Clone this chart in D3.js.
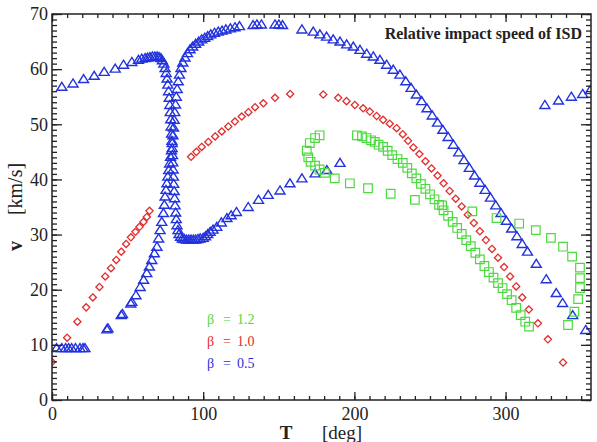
<!DOCTYPE html>
<html>
<head>
<meta charset="utf-8">
<script src="https://cdn.jsdelivr.net/npm/d3@7"></script>
<style>
  body { margin: 0; background: #fff; }
  svg { display: block; }
</style>
</head>
<body>
<script>
// tick labels
const xTicks = [0, 100, 200, 300];
const yTicks = [0, 10, 20, 30, 40, 50, 60, 70];

// beta = 0.5, first branch (upper left, falls through the V, lower right, plus wrap at T~330+)
const beta05a = [
  [6.5,56.8],[13.9,57.4],[20.9,58.2],[27.9,58.8],[34.5,59.5],[41.8,60.1],[47.3,60.8],[52.8,61.3],
  [57.2,61.7],[59.4,61.9],[61.6,62.0],[63.2,62.1],[64.8,62.2],[66.4,62.3],[68,62.3],[69.5,62.3],
  [70.8,62.2],[72,62],[73,61.6],[74,61],[74.8,60.2],[75.5,59.3],[76.1,58.3],[76.6,57.2],[77.1,56],
  [77.5,54.8],[77.9,53.5],[78.2,52.2],[78.5,50.9],[78.8,49.6],[79.1,48.3],[79.3,47],[79.5,45.7],
  [79.7,44.4],[79.9,43.1],[80.1,41.8],[80.3,40.5],[80.5,39.2],[80.8,37.9],[81.1,36.6],[81.4,35.3],
  [81.8,34],[82.2,32.8],[82.7,31.7],[83.3,30.8],[84,30.1],[85,29.6],[86.2,29.3],[87.5,29.2],
  [89,29.1],[90.5,29.1],[92,29.1],[93.5,29.1],[95,29.1],[96.5,29.2],[98,29.3],[100,29.4],
  [101.5,29.7],[103,30.1],[104.6,30.5],[106.5,30.9],[109,31.4],[112,32.2],[115.7,33],[118.5,33.5],
  [122,34.1],[129.8,35],[136.6,36.3],[143,37.2],[150.8,38],[157.4,39.3],[165.3,40.2],[174,41.1],
  [181.8,41.7],[190.5,43],
  [326,53.5],[335,54.3],[343.5,55],[351,55.5],[356,56.2]
];

// beta = 0.5, second branch (low start, rises through the V, long descent)
const beta05b = [
  [3,9.4],[6.5,9.4],[9,9.4],[11,9.4],[13,9.4],[15.5,9.4],[18.5,9.4],[20.5,9.4],[21.8,9.4],
  [36.3,12.8],[37,13],[45.8,15.4],[46.6,15.6],[52.1,17.5],[52.8,17.8],[55.5,19],[58.3,20.5],
  [60.6,21.8],[62.7,23],[64.4,24.2],[66,25.4],[67.7,26.6],[69.4,27.8],[70.5,29.3],[71.5,30.8],
  [72.6,32.3],[73.7,33.9],[74.3,35.4],[74.8,36.9],[75.4,38.1],[76,39.3],[76.6,40.5],[77.2,41.7],
  [77.8,42.9],[78.4,44.1],[79,45.3],[79.5,46.6],[80,48],[80.4,49.4],[80.8,50.8],[81.2,52.2],
  [81.7,53.6],[82.2,55],[82.8,56.4],[83.5,57.8],[84.3,59],[85.3,60.2],[86.5,61.2],[88,62.1],
  [89.6,62.9],[91.3,63.6],[93,64.1],[95,64.6],[97,65],[99,65.4],[101,65.7],[103,66],[105,66.3],
  [107.5,66.6],[110,66.8],[112.5,67],[115,67.2],[118,67.4],[121,67.6],[124,67.8],[133,68],
  [135.5,68.1],[138.5,68.1],[147.5,68.1],[150,68.1],[152.5,68],[165.3,67.2],[172.8,66.8],
  [177.2,66.3],[181.6,65.9],[186,65.4],[190.5,65],[194.9,64.5],[199.3,64.1],[203.7,63.5],
  [208.1,62.8],[212.5,62.3],[216.9,61.7],[221.3,60.8],[225.7,59.9],[230.1,59],[234,57.8],
  [237.5,56.6],[241,55.4],[244.5,54.2],[248,52.9],[251.5,51.6],[255,50.3],[258.5,49],[262,47.7],
  [265.5,46.3],[269,44.9],[272.5,43.5],[276,42.1],[279.5,40.7],[283,39.4],[286.5,38.1],[290,36.7],
  [293.5,35.3],[297,33.9],[300.5,32.5],[304,31.1],[307.5,29.7],[311,28.3],[314.5,26.9],
  [320.3,24.7],[326.9,21.9],[333.5,19.4],[337.7,17.6],[344.4,15.4],[353,12.7]
];

// beta = 1.0
const beta10 = [
  [0,6.9],[10,11.3],[16.8,14.2],[22.6,16.8],[27,18.6],[31.4,20.5],[35.2,22.4],[39,23.9],[42.5,25.4],
  [45.8,26.9],[49,28.3],[52.2,29.5],[55.2,30.5],[57.9,31.4],[60.5,32.3],[62.7,33.2],[64.5,34.3],
  [92,44.1],[95.5,45],[99,45.9],[103.4,46.8],[107.9,47.8],[112.3,48.7],[116.6,49.6],[121,50.5],
  [125.5,51.4],[129.9,52.2],[134.3,53.1],[139.8,53.8],[147.5,54.8],[157.5,55.5],
  [179.4,55.4],[189.3,54.8],[194.8,54.2],[200.3,53.5],[205.8,52.9],[210.2,52.3],[214.7,51.5],
  [219,50.8],[223.4,50.1],[227.9,49.3],[232,48.2],[235.5,47],[239,45.8],[243,44.6],[247,43.3],
  [251,42],[255,40.7],[259,39.3],[263,37.9],[267,36.5],[271,35.1],[275,33.6],[279,32.1],[283,30.6],
  [287,29],[291,27.4],[295,25.8],[299,24.1],[303,22.4],[307,20.6],[311,18.6],[315.4,16.4],
  [321.4,13.9],[328,11],[338,6.8]
];

// beta = 1.2
const beta12 = [
  [177,48],[174,47.5],[170.5,46.6],[168.5,45.2],[169.5,44],[171,43.2],[174,42.5],[177,41.8],
  [180.5,41.2],[187,40.2],[197,39.3],[209,38.4],[224,37.4],[240,36.3],[258,35.3],[278,34.2],
  [294,33],[309,32],[320,30.8],[330,29.4],[338,27.8],[344,26],[349.2,24],[349.2,22.1],[349.2,20.3],
  [348,18.3],[345.5,16],[341.3,13.6],
  [201.7,48],[205,47.8],[208,47.5],[211,47.1],[213.5,46.8],[216,46.3],[219,45.9],[222,45.2],
  [225,44.4],[228.5,43.7],[232,43],[235,42.1],[238,41.1],[241,40.2],[244,39.2],[247,38.3],
  [250,37.3],[253,36.4],[256,35.4],[259,34.4],[262,33.4],[265,32.3],[268,31.2],[271,30.1],
  [274,29],[277,27.9],[280,26.7],[283,25.5],[286,24.3],[289,23.2],[292,22.2],[295,21.2],
  [298,20.3],[301,19.2],[304,18.1],[307,16.7],[310,15.4],[313,14.2],[315.5,13.3]
];

const legendLabels = ['1.2', '1.0', '0.5'];

const blue = '#2233dd', red = '#e22d2d', green = '#4fd940';
const ink = '#222';
const serif = '"Liberation Serif", "Times New Roman", serif';

const W = 597, H = 442;
const mLeft = 52, mRight = 591, mTop = 14, mBottom = 400;

const x = d3.scaleLinear().domain([0, 356.5]).range([mLeft, mRight]);
const y = d3.scaleLinear().domain([0, 70]).range([mBottom, mTop]);

const svg = d3.select('body').append('svg').attr('width', W).attr('height', H);

svg.append('defs').append('clipPath').attr('id', 'plot')
  .append('rect').attr('x', mLeft).attr('y', mTop).attr('width', mRight - mLeft).attr('height', mBottom - mTop);

// markers
const tri = 'M0,-4.5L5,3.5L-5,3.5Z';
const dia = 'M0,-3.6L3.6,0L0,3.6L-3.6,0Z';
const sq = 'M-4.3,-4.3H4.3V4.3H-4.3Z';

const marks = svg.append('g').attr('clip-path', 'url(#plot)');

function scatter(data, shape, color, sw) {
  marks.append('g').selectAll('path')
    .data(data)
    .join('path')
    .attr('transform', d => `translate(${x(d[0])},${y(d[1])})`)
    .attr('d', shape)
    .attr('fill', 'none')
    .attr('stroke', color)
    .attr('stroke-width', sw);
}

scatter(beta05a.concat(beta05b), tri, blue, 1.4);
scatter(beta10, dia, red, 1.3);
scatter(beta12, sq, green, 1.2);

// axes, ticks pointing inward
function drawAxis(axis, tx, ty) {
  svg.append('g')
    .attr('transform', `translate(${tx},${ty})`)
    .call(axis)
    .call(g => {
      g.attr('font-family', null).attr('font-size', null);
      g.select('.domain').remove();
      g.selectAll('line').attr('stroke', ink).attr('stroke-width', 1.3);
      g.selectAll('text').style('font-family', serif).style('font-size', '18px').attr('fill', ink);
    });
}

const xMinor = d3.range(0, 357, 10);
const yMinor = d3.range(0, 71, 1);

drawAxis(d3.axisBottom(x).tickValues(xMinor).tickSize(-4).tickFormat(''), 0, mBottom);
drawAxis(d3.axisBottom(x).tickValues(xTicks).tickSize(-8).tickPadding(7), 0, mBottom);
drawAxis(d3.axisTop(x).tickValues(xMinor).tickSize(-4).tickFormat(''), 0, mTop);
drawAxis(d3.axisTop(x).tickValues(xTicks).tickSize(-8).tickFormat(''), 0, mTop);
drawAxis(d3.axisLeft(y).tickValues(yMinor).tickSize(-5).tickFormat(''), mLeft, 0);
drawAxis(d3.axisLeft(y).tickValues(yTicks).tickSize(-10).tickPadding(4), mLeft, 0);
drawAxis(d3.axisRight(y).tickValues(yMinor).tickSize(-5).tickFormat(''), mRight, 0);
drawAxis(d3.axisRight(y).tickValues(yTicks).tickSize(-10).tickFormat(''), mRight, 0);

// frame
svg.append('rect')
  .attr('x', mLeft).attr('y', mTop)
  .attr('width', mRight - mLeft).attr('height', mBottom - mTop)
  .attr('fill', 'none').attr('stroke', ink).attr('stroke-width', 1.5);

// title
svg.append('text')
  .attr('x', 582).attr('y', 39)
  .attr('text-anchor', 'end')
  .style('font-family', serif).style('font-size', '16px').attr('font-weight', 'bold')
  .attr('fill', ink)
  .text('Relative impact speed of ISD');

// x axis title
svg.append('text')
  .attr('x', 286).attr('y', 439).attr('text-anchor', 'middle')
  .style('font-family', serif).style('font-size', '19px').attr('font-weight', 'bold').attr('fill', ink)
  .text('T');
svg.append('text')
  .attr('x', 322).attr('y', 439)
  .style('font-family', serif).style('font-size', '19px').attr('fill', ink)
  .text('[deg]');

// y axis title
svg.append('text')
  .attr('transform', 'translate(22,246) rotate(-90)').attr('text-anchor', 'middle')
  .style('font-family', serif).style('font-size', '20px').attr('font-weight', 'bold').attr('fill', ink)
  .text('v');
svg.append('text')
  .attr('transform', 'translate(22,189) rotate(-90)').attr('text-anchor', 'middle')
  .style('font-family', serif).style('font-size', '20px').attr('fill', ink)
  .text('[km/s]');

// legend
const legendColors = [green, red, blue];
const leg = svg.append('g').style('font-family', serif).style('font-size', '14px');
legendLabels.forEach((lab, i) => {
  const t = leg.append('text').attr('y', 324 + i * 22).attr('fill', legendColors[i]);
  t.append('tspan').attr('x', 207).text('β');
  t.append('tspan').attr('x', 223).text('=');
  t.append('tspan').attr('x', 237).text(lab);
});
</script>
</body>
</html>
